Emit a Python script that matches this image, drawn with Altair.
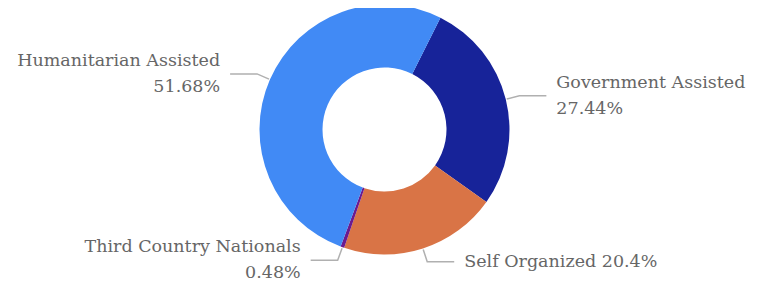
import math
import pandas as pd
import altair as alt

# ---- data ----
names = ["Government Assisted", "Self Organized", "Third Country Nationals", "Humanitarian Assisted"]
values = [27.44, 20.4, 0.48, 51.68]
colors = ["#172399", "#d97446", "#6b1a8f", "#418af5"]
label_seps = ["\n", " ", "\n", "\n"]

# ---- layout / style ----
W, H = 746, 275
CX, CY = 376.5, 121.5
R_OUT, R_IN = 125, 62
START_DEG = 26.6
FONT = "DejaVu Serif"
FONT_SIZE = 17.5
TEXT_COLOR = "#666666"
LEADER_COLOR = "#b0b0b0"
LINE_H = 26

start = math.radians(START_DEG)
total = sum(values)

arc_df = pd.DataFrame({"name": names, "value": values, "order": list(range(len(names)))})

line_rows, label_rows = [], []
cum = 0.0
for n, v, sep in zip(names, values, label_seps):
    a = start + (cum + v / 2) / total * 2 * math.pi
    cum += v
    s, c = math.sin(a), math.cos(a)
    side = 1 if s >= 0 else -1
    ax, ay = CX + (R_OUT + 1) * s, CY - (R_OUT + 1) * c
    ex, ey = CX + (R_OUT + 14) * s, CY - (R_OUT + 14) * c
    tx = ex + side * 27
    pts = [(ax, ay), (ex, ey), (tx, ey)]
    for i, (px, py) in enumerate(pts):
        line_rows.append({"name": n, "pt": i, "x": px, "y": py})
    nlines = 2 if sep == "\n" else 1
    label_rows.append({"name": n, "label": f"{n}{sep}{v:g}%", "x": tx + side * 10,
                       "y": ey - (nlines - 1) * LINE_H / 2,
                       "side": "right" if side > 0 else "left"})

line_df = pd.DataFrame(line_rows)
label_df = pd.DataFrame(label_rows)

xs = alt.Scale(domain=[0, W], range=[0, W])
ys = alt.Scale(domain=[0, H], range=[0, H])

arcs = alt.Chart(arc_df).mark_arc(outerRadius=R_OUT, innerRadius=R_IN).encode(
    theta=alt.Theta("value:Q", stack=True,
                    scale=alt.Scale(range=[start, start + 2 * math.pi])),
    color=alt.Color("name:N", scale=alt.Scale(domain=names, range=colors), legend=None),
    order=alt.Order("order:Q"),
    x=alt.value(CX),
    y=alt.value(CY),
)

leaders = alt.Chart(line_df).mark_line(color=LEADER_COLOR, strokeWidth=1.5).encode(
    x=alt.X("x:Q", scale=xs, axis=None),
    y=alt.Y("y:Q", scale=ys, axis=None),
    detail="name:N",
    order="pt:Q",
)

text_base = alt.Chart(label_df).encode(
    x=alt.X("x:Q", scale=xs, axis=None),
    y=alt.Y("y:Q", scale=ys, axis=None),
    text="label:N",
)
left_labels = text_base.transform_filter(alt.datum.side == "left").mark_text(
    align="right", baseline="middle", font=FONT, fontSize=FONT_SIZE, color=TEXT_COLOR,
    lineBreak="\n", lineHeight=LINE_H)
right_labels = text_base.transform_filter(alt.datum.side == "right").mark_text(
    align="left", baseline="middle", font=FONT, fontSize=FONT_SIZE, color=TEXT_COLOR,
    lineBreak="\n", lineHeight=LINE_H)

chart = alt.layer(arcs, leaders, left_labels, right_labels).properties(
    width=W, height=H, padding=0, autosize="none"
).configure_view(strokeWidth=0)

chart.save("out.html", embed_options={"renderer": "svg", "actions": False})
